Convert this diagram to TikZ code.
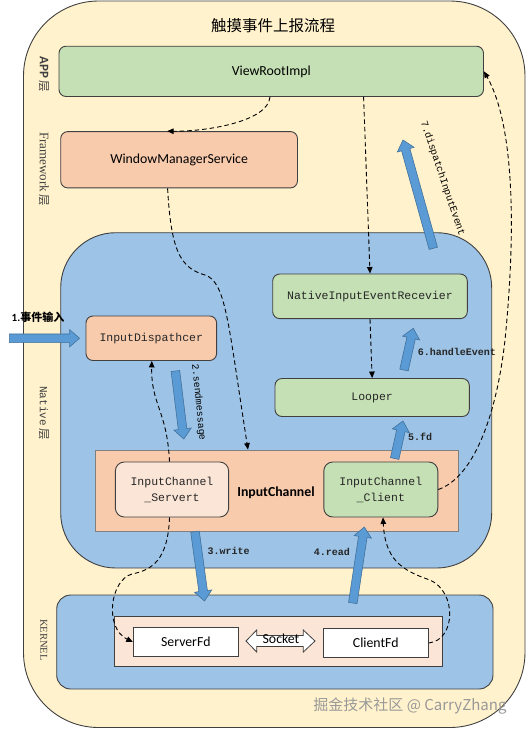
\documentclass[tikz,border=0pt]{standalone}
\usepackage{fontspec}
\setmainfont{Carlito}
\newfontfamily\cjkf{Noto Sans CJK SC}
\newfontfamily\monof{Liberation Mono}
\newfontfamily\serf{Liberation Serif}
\usetikzlibrary{calc,arrows.meta}
\definecolor{yel}{HTML}{FFF2CC}
\definecolor{blu}{HTML}{9DC3E6}
\definecolor{grn}{HTML}{C5E0B4}
\definecolor{sal}{HTML}{F8CBAD}
\definecolor{lpk}{HTML}{FBE5D6}
\definecolor{arf}{HTML}{5B9BD5}
\definecolor{ard}{HTML}{41719C}
\definecolor{lnc}{HTML}{404040}
\newcommand\fsz[1]{\fontsize{#1}{#1}\selectfont}
\newcommand\blockarrow[2]{%
  \draw[barrow] let \p1=($(#2)-(#1)$), \n1={atan2(\y1,\x1)}, \n2={veclen(\x1,\y1)-10} in
   ($(#1)+(\n1+90:4.3pt)$) -- ($(#1)+(\n1:\n2)+(\n1+90:4.3pt)$) -- ($(#1)+(\n1:\n2)+(\n1+90:8.7pt)$) -- (#2)
   -- ($(#1)+(\n1:\n2)+(\n1-90:8.7pt)$) -- ($(#1)+(\n1:\n2)+(\n1-90:4.3pt)$) -- ($(#1)+(\n1-90:4.3pt)$) -- cycle;}
\tikzset{
  box/.style={draw=lnc, line width=0.9pt, rounded corners=7pt, inner sep=0pt, align=center},
  gbox/.style={box, fill=grn},
  sbox/.style={box, fill=sal},
  pbox/.style={box, fill=lpk},
  wbox/.style={draw=lnc, line width=0.9pt, fill=white, inner sep=0pt},
  region/.style={draw=lnc, line width=0.9pt, inner sep=0pt},
  barrow/.style={fill=arf, draw=ard, line width=0.6pt, line join=miter},
  dconn/.style={draw=black, line width=0.9pt, dash pattern=on 4.5pt off 3pt,
     -{Triangle[length=6.5pt,width=5.5pt]}},
  sanslbl/.style={font=\fsz{13.8}, text=black},
  monolbl/.style={font=\monof\fsz{11.5}, text=black!85},
  steplbl/.style={font=\monof\bfseries\fsz{10}, text=black!85},
  sidelbl/.style={rotate=-90, text=black!75, inner sep=0pt}
}
\begin{document}
\begin{tikzpicture}[x=1pt,y=-1pt]
\useasboundingbox (0,0) rectangle (529,729);
% layers
\node[region, fill=yel, rounded corners=75pt, minimum width=501.5pt, minimum height=726.5pt] (outer) at (274.25,364.25) {};
\node[region, fill=blu, rounded corners=55pt, minimum width=431pt, minimum height=335.3pt] (native) at (276.2,400.35) {};
\node[region, fill=blu, rounded corners=14pt, minimum width=436.3pt, minimum height=94pt] (kernel) at (274.85,642) {};
\node[draw=gray, line width=0.8pt, fill=sal, inner sep=0pt, minimum width=363pt, minimum height=81.7pt] (ichan) at (276.5,490.85) {};
\node[region, fill=lpk, minimum width=328.7pt, minimum height=50pt] (kin) at (278.35,641.5) {};

% title and side labels
\node (title) at (273,25.3) {\cjkf\fsz{15.5}触摸事件上报流程};
\node[sidelbl] (applbl) at (43.9,74) {{\bfseries\fsz{13}APP} {\cjkf\fsz{11.5}层}};
\node[sidelbl] (fwlbl) at (43.9,169) {{\serf\fsz{13}Framework} {\cjkf\fsz{11.5}层}};
\node[sidelbl] (natlbl) at (43.9,413) {{\monof\fsz{11}Native} {\cjkf\fsz{11.5}层}};
\node[sidelbl] (kerlbl) at (43.9,640) {\serf\fsz{10.5}KERNEL};

% boxes
\node[gbox, sanslbl, minimum width=424.5pt, minimum height=50.3pt] (vri) at (271.25,71.35) {ViewRootImpl};
\node[sbox, sanslbl, minimum width=236.8pt, minimum height=56.3pt] (wms) at (179.1,159.75) {WindowManagerService};
\node[gbox, monolbl, minimum width=194.6pt, minimum height=44.6pt] (nier) at (370,296.3) {NativeInputEventRecevier};
\node[sbox, monolbl, minimum width=130.6pt, minimum height=44.5pt] (idisp) at (151.3,338.25) {InputDispathcer};
\node[gbox, monolbl, minimum width=194.3pt, minimum height=38pt] (looper) at (372.15,397.5) {Looper};
\node[pbox, monolbl, minimum width=113.3pt, minimum height=55pt, rounded corners=9pt] (ics) at (172,489.5) {InputChannel\\[4.5pt]\_Servert};
\node[gbox, monolbl, minimum width=114pt, minimum height=55pt, rounded corners=9pt] (icc) at (380.8,489.5) {InputChannel\\[4.5pt]\_Client};
\node[font=\bfseries\fsz{13.8}] (iclbl) at (276,492.3) {InputChannel};
\node[wbox, sanslbl, minimum width=105pt, minimum height=29pt] (sfd) at (185.8,642) {ServerFd};
\node[wbox, sanslbl, minimum width=105pt, minimum height=29pt] (cfd) at (375.8,643) {ClientFd};

% socket double arrow
\draw[draw=lnc, line width=0.8pt, fill=white, line join=miter]
  (246,641) -- (256.7,630) -- (256.7,635.5) -- (303.3,635.5) -- (303.3,630) -- (315,641)
  -- (303.3,652) -- (303.3,646.5) -- (256.7,646.5) -- (256.7,652) -- cycle;
\node[sanslbl, inner sep=0pt] (sock) at (281,638.5) {Socket};

% blue block arrows
\coordinate (a1s) at (9.4,338.25);
\coordinate (a1e) at ([xshift=-6pt]idisp.west);
\coordinate (a2s) at (175.4,371);
\coordinate (a2e) at (183.8,439);
\coordinate (a3s) at (195,531.7);
\coordinate (a3e) at (204.5,601);
\coordinate (a4s) at (352.8,603);
\coordinate (a4e) at (364.3,527);
\coordinate (a5s) at (394.7,458.5);
\coordinate (a5e) at (403,421);
\coordinate (a6s) at (404,370);
\coordinate (a6e) at (413.3,328.3);
\coordinate (a7s) at (433.3,248.3);
\coordinate (a7e) at (403,140);
\blockarrow{a1s}{a1e}
\blockarrow{a2s}{a2e}
\blockarrow{a3s}{a3e}
\blockarrow{a4s}{a4e}
\blockarrow{a5s}{a5e}
\blockarrow{a6s}{a6e}
\blockarrow{a7s}{a7e}

% step labels
\node[font=\bfseries\fsz{11}] (l1) at (38,317) {1.{\cjkf\bfseries 事件输入}};
\node[font=\monof\fsz{9.8}, rotate=-84.4, inner sep=0pt] (l2) at (198.5,402.5) {2.sendmessage};
\node[steplbl, inner sep=0pt] (l3) at (228.7,550.5) {3.write};
\node[steplbl, inner sep=0pt] (l4) at (332,552) {4.read};
\node[steplbl, inner sep=0pt] (l5) at (420,437) {5.fd};
\node[steplbl, inner sep=0pt] (l6) at (457,352) {6.handleEvent};
\node[font=\monof\fsz{10}, rotate=-71.3, inner sep=0pt] (l7) at (442.5,178.5) {7.dispatchInputEvent};

% dashed connectors
\draw[dconn] ([xshift=-1.25pt]vri.south) .. controls (268,122) and (205,131.6) .. ([xshift=-12pt]wms.north);
\draw[dconn] ([xshift=-11.5pt]wms.south) .. controls (171,250) and (180,268) .. (205,275)
   .. controls (226,282) and (228,322) .. ([xshift=-28.5pt]ichan.north);
\draw[dconn] ([xshift=92.35pt]vri.south) -- (nier.north);
\draw[dconn] (nier.south) -- (looper.north);
\draw[dconn] ([xshift=-2.5pt]ics.north) .. controls (167,410) and (151,405) .. ([xshift=0.5pt]idisp.south);
\draw[dconn] ([xshift=-2.5pt]ics.south) .. controls (168,560) and (152,570) .. (132,574)
   .. controls (110,580) and (104,628) .. (sfd.west);
\draw[dconn] (cfd.east) .. controls (456,640) and (457,592) .. (430,580)
   .. controls (400,570) and (385,558) .. ([xshift=2.2pt]icc.south);
\draw[dconn] (icc.east) .. controls (472,478) and (496,420) .. (505,340)
   .. controls (515,240) and (516,128) .. (vri.east);

% watermark
\node[font=\cjkf\fsz{15}, text=black!40] (wm) at (410,705.5) {掘金技术社区 @ CarryZhang};
\end{tikzpicture}
\end{document}
